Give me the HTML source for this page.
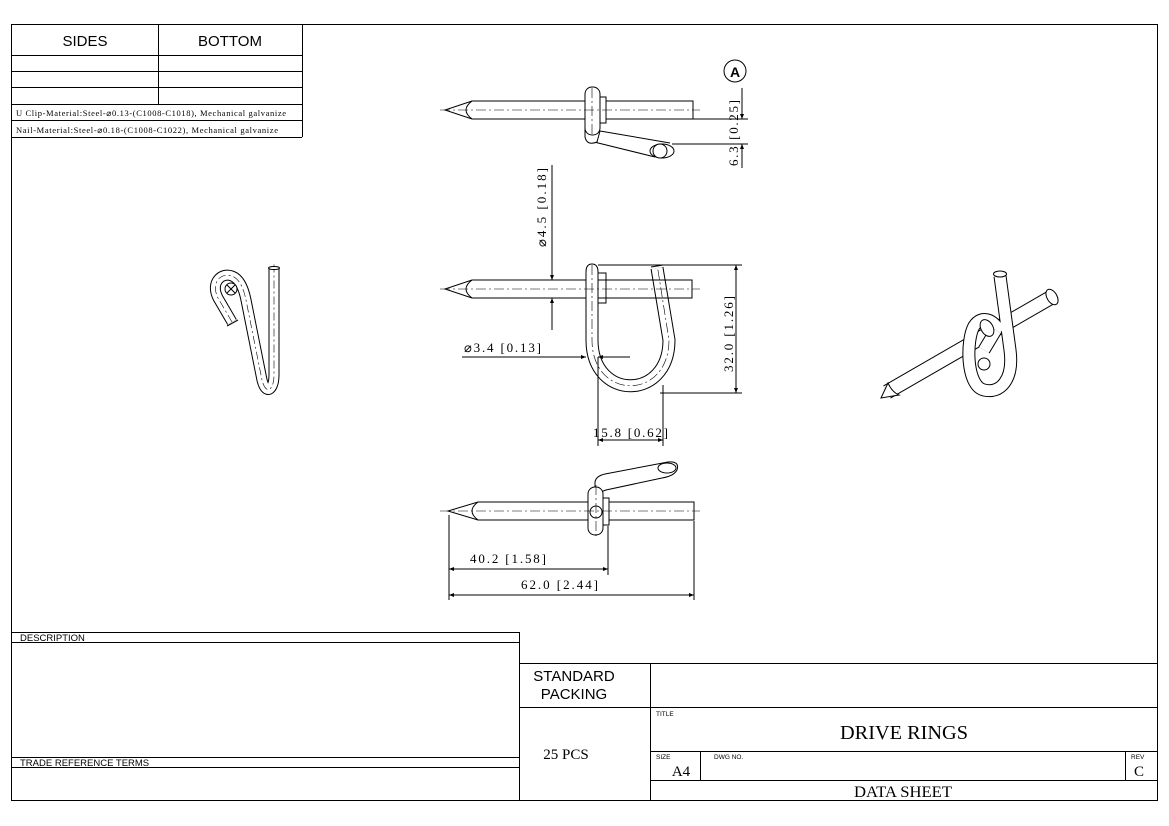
<!DOCTYPE html>
<html><head><meta charset="utf-8"><style>
html,body{margin:0;padding:0;background:#fff;}
svg{display:block;}
.s{font-family:"Liberation Sans",sans-serif;}
.m{font-family:"Liberation Serif",serif;}
</style></head><body>
<svg width="1169" height="826" viewBox="0 0 1169 826" xmlns="http://www.w3.org/2000/svg">
<defs>
<marker id="ar" viewBox="0 0 10 10" refX="10" refY="5" markerWidth="12" markerHeight="5" markerUnits="userSpaceOnUse" orient="auto-start-reverse"><path d="M0,1 L10,5 L0,9z" fill="#000"/></marker>
</defs>
<g fill="none" stroke="#000" stroke-width="1">
<rect x="11.5" y="24.5" width="1146" height="776"/>
<path d="M302.5,24 V137 M11,55.5 H302 M11,71.5 H302 M11,87.5 H302 M11,104.5 H302 M11,120.5 H302 M11,137.5 H302 M158.5,24 V104"/>
<path d="M11,632.5 H519 M11,642.5 H519 M11,757.5 H519 M11,767.5 H519 M519.5,632 V800"/>
<path d="M519,663.5 H1157 M519,707.5 H1157 M650,751.5 H1157 M650,780.5 H1157 M650.5,663 V800 M700.5,751 V780 M1125.5,751 V780"/>
</g>
<g class="s" font-size="15" text-anchor="middle">
<text x="85" y="46">SIDES</text><text x="230" y="46">BOTTOM</text>
</g>
<g class="m" font-size="8.5">
<text x="16" y="116" textLength="270" lengthAdjust="spacing">U Clip-Material:Steel-⌀0.13-(C1008-C1018), Mechanical galvanize</text>
<text x="16" y="133" textLength="262" lengthAdjust="spacing">Nail-Material:Steel-⌀0.18-(C1008-C1022), Mechanical galvanize</text>
</g>
<g class="s" font-size="9.5">
<text x="20" y="641">DESCRIPTION</text>
<text x="20" y="766">TRADE REFERENCE TERMS</text>
</g>
<g class="s" font-size="15" text-anchor="middle"><text x="574" y="681">STANDARD</text><text x="574" y="699">PACKING</text></g>
<text class="m" x="566" y="759" font-size="15" text-anchor="middle">25 PCS</text>
<g class="s" font-size="6.5"><text x="656" y="716">TITLE</text><text x="656" y="759">SIZE</text><text x="714" y="759">DWG NO.</text><text x="1131" y="759">REV</text></g>
<text class="m" x="904" y="739" font-size="20" text-anchor="middle" textLength="128" lengthAdjust="spacingAndGlyphs">DRIVE RINGS</text>
<text class="m" x="681" y="776" font-size="15" text-anchor="middle">A4</text>
<text class="m" x="1139" y="776" font-size="15" text-anchor="middle">C</text>
<text class="m" x="903" y="797" font-size="16" text-anchor="middle" textLength="98" lengthAdjust="spacingAndGlyphs">DATA SHEET</text>

<!-- TOP VIEW -->
<g fill="#fff" stroke="#000" stroke-width="1">
<path d="M472,101 H693 V119 H472 L445,110 Z"/>
<path d="M472,101 Q460,110 472,119" fill="none"/>
<path d="M600,131 L670,143 M590,141 L655,157" fill="none"/>
<path d="M585,118 L585,137 Q587,146 597,142 L600,131" />
<ellipse cx="662" cy="151" rx="12" ry="7"/>
<ellipse cx="660" cy="151" rx="7" ry="7"/>
<rect x="599" y="97" width="7" height="26"/>
<rect x="585" y="87" width="15" height="48" rx="7"/>
</g>
<path d="M440,110 H700 M592,88 V134" stroke="#000" stroke-width="0.6" stroke-dasharray="10,3,2,3" fill="none"/>
<g stroke="#000" stroke-width="1" fill="none">
<path d="M693,119 H748 M672,144 H748"/>
<path d="M742,88 V119" marker-end="url(#ar)"/>
<path d="M742,168 V144" marker-end="url(#ar)"/>
<circle cx="735" cy="71" r="11"/>
</g>
<text class="s" x="735" y="77" font-size="14" text-anchor="middle" font-weight="bold">A</text>
<text class="m" font-size="13" transform="translate(738,166) rotate(-90)" textLength="66" lengthAdjust="spacing">6.3 [0.25]</text>

<!-- MIDDLE VIEW -->
<g fill="#fff" stroke="#000" stroke-width="1">
<path d="M472,280 H692 V298 H472 L445,289 Z"/>
<path d="M472,280 Q460,289 472,298" fill="none"/>
<rect x="598" y="273" width="8" height="30"/>
</g>
<path d="M592,271 L592,340 C592,401 669,401 669,340 L657,268" fill="none" stroke="#000" stroke-width="13"/>
<path d="M592,271 L592,340 C592,401 669,401 669,340 L657,268" fill="none" stroke="#fff" stroke-width="11"/>
<path d="M586,271 Q592,260 598,271 Z" fill="#fff" stroke="none"/>
<path d="M586,272 Q586,264 592,264 Q598,264 598,272" fill="none" stroke="#000"/>
<path d="M651,267 L663,265" stroke="#000"/>
<path d="M598,280 H692 M598,298 H692" stroke="#000" fill="none"/>
<path d="M440,289 H700" stroke="#000" stroke-width="0.6" stroke-dasharray="10,3,2,3"/>
<path d="M592,265 L592,340 C592,401 669,401 669,340 L657,264" fill="none" stroke="#000" stroke-width="0.6" stroke-dasharray="10,3,2,3"/>
<g stroke="#000" stroke-width="1" fill="none">
<path d="M530,280 H556 M530,298 H556"/>
<path d="M552,165 V280" marker-end="url(#ar)"/>
<path d="M552,330 V298" marker-end="url(#ar)"/>
<path d="M462,357 H586" marker-end="url(#ar)"/>
<path d="M630,357 H598" marker-end="url(#ar)"/>
<path d="M598,265 H742 M660,393 H742"/>
<path d="M736,333 V265" marker-end="url(#ar)"/>
<path d="M736,333 V393" marker-end="url(#ar)"/>
<path d="M598,357 V446 M663,385 V446"/>
<path d="M630,440 H598" marker-end="url(#ar)"/>
<path d="M630,440 H663" marker-end="url(#ar)"/>
</g>
<text class="m" font-size="13" transform="translate(546,247) rotate(-90)" textLength="79" lengthAdjust="spacing">⌀4.5 [0.18]</text>
<text class="m" x="464" y="352" font-size="13" textLength="77" lengthAdjust="spacing">⌀3.4 [0.13]</text>
<text class="m" font-size="13" transform="translate(733,372) rotate(-90)" textLength="76" lengthAdjust="spacing">32.0 [1.26]</text>
<text class="m" x="593" y="437" font-size="13" textLength="75" lengthAdjust="spacing">15.8 [0.62]</text>

<!-- BOTTOM VIEW -->
<g fill="#fff" stroke="#000" stroke-width="1">
<path d="M478,502 H694 V520 H478 L448,511 Z"/>
<path d="M478,502 Q466,511 478,520" fill="none"/>
<path d="M595,494 L595,482 Q596,476 605,474 L668,462 Q680,461 677,470 Q674,476 662,478 L606,490 Z"/>
<ellipse cx="667" cy="468" rx="9" ry="5"/>
<rect x="603" y="498" width="6" height="27"/>
<rect x="588" y="487" width="15" height="48" rx="7"/>
<circle cx="596" cy="512" r="6"/>
</g>
<path d="M440,511 H700 M596,485 V537" stroke="#000" stroke-width="0.6" stroke-dasharray="10,3,2,3" fill="none"/>
<g stroke="#000" stroke-width="1" fill="none">
<path d="M449,515 V600 M608,526 V575 M694,521 V600"/>
<path d="M520,569 H449" marker-end="url(#ar)"/>
<path d="M520,569 H608" marker-end="url(#ar)"/>
<path d="M560,595 H449" marker-end="url(#ar)"/>
<path d="M560,595 H694" marker-end="url(#ar)"/>
</g>
<text class="m" x="470" y="563" font-size="13" textLength="76" lengthAdjust="spacing">40.2 [1.58]</text>
<text class="m" x="521" y="589" font-size="13" textLength="77" lengthAdjust="spacing">62.0 [2.44]</text>

<!-- LEFT VIEW -->
<path d="M232,322 L218,298 C210,282 222,272 232,276 C240,279 244,290 246,300 L262,380 C266,396 274,390 274,375 L274,268" fill="none" stroke="#000" stroke-width="11"/>
<path d="M232,322 L218,298 C210,282 222,272 232,276 C240,279 244,290 246,300 L262,380 C266,396 274,390 274,375 L274,268" fill="none" stroke="#fff" stroke-width="9"/>
<path d="M232,322 L218,298 C210,282 222,272 232,276 C240,279 244,290 246,300 L262,380 C266,396 274,390 274,375 L274,264" fill="none" stroke="#000" stroke-width="0.6" stroke-dasharray="8,3,2,3"/>
<path d="M227,326 L238,320" stroke="#000"/>
<ellipse cx="274" cy="268" rx="5.5" ry="1.5" fill="#fff" stroke="#000"/>
<circle cx="231" cy="289" r="6" fill="#fff" stroke="#000"/>
<path d="M227,285 L235,293 M235,285 L227,293" stroke="#000"/>

<!-- ISO VIEW -->
<path d="M887,392 L1050,298" stroke="#000" stroke-width="15" stroke-linecap="butt"/>
<path d="M887,392 L1050,298" stroke="#fff" stroke-width="13"/>
<ellipse cx="1052" cy="297" rx="5" ry="8.5" transform="rotate(-30 1052 297)" fill="#fff" stroke="#000"/>
<path d="M881,398 L888,383 Q892,392 899,395 Z" fill="#fff" stroke="#000"/>
<path d="M1000,276 L1010,350 C1014,380 1000,394 984,390 C966,386 966,340 974,326 C982,314 994,320 1000,332" fill="none" stroke="#000" stroke-width="13"/>
<path d="M1000,276 L1010,350 C1014,380 1000,394 984,390 C966,386 966,340 974,326 C982,314 994,320 1000,332" fill="none" stroke="#fff" stroke-width="11"/>
<path d="M984,350 L996,330" stroke="#000" stroke-width="13"/>
<path d="M984,350 L996,330" stroke="#fff" stroke-width="11"/>
<ellipse cx="984" cy="364" rx="6" ry="6" fill="#fff" stroke="#000"/>
<ellipse cx="1000" cy="274" rx="6.5" ry="3" fill="#fff" stroke="#000"/>
<ellipse cx="987" cy="328" rx="6" ry="9" transform="rotate(-30 987 328)" fill="#fff" stroke="#000"/>
</svg>
</body></html>
